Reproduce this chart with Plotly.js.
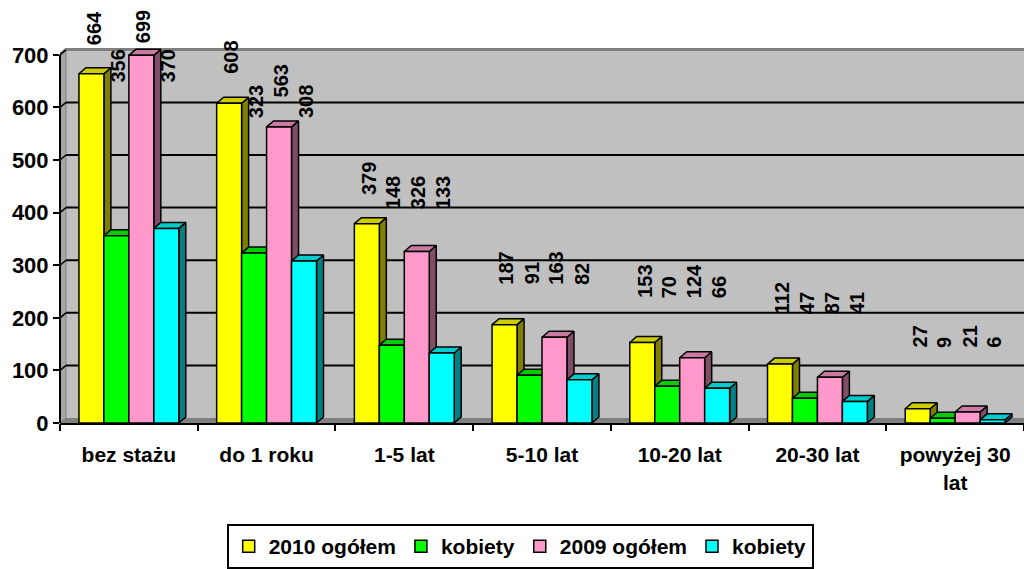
<!DOCTYPE html>
<html>
<head>
<meta charset="utf-8">
<script src="https://cdn.plot.ly/plotly-3.0.1.min.js"></script>
<style>
  html, body { margin: 0; padding: 0; background: #fff; }
  #chart { width: 1024px; height: 569px; }
</style>
</head>
<body>
<div id="chart"></div>
<script>
// --- data ---
const categories = ['bez stażu', 'do 1 roku', '1-5 lat', '5-10 lat', '10-20 lat', '20-30 lat', 'powyżej 30<br>lat'];
const total2010 = [664, 608, 379, 187, 153, 112, 27];
const women2010 = [356, 323, 148, 91, 70, 47, 9];
const total2009 = [699, 563, 326, 163, 124, 87, 21];
const women2009 = [370, 308, 133, 82, 66, 41, 6];
const seriesNames = ['2010 ogółem', 'kobiety', '2009 ogółem', 'kobiety'];
const yTicks = [0, 100, 200, 300, 400, 500, 600, 700];

// colours: front / top / side (Excel 3D look)
const fronts = ['#FFFF00', '#00FF00', '#FF99CC', '#00FFFF'];
const tops   = ['#CCCC00', '#00CC00', '#CC7AA3', '#00CCCC'];
const sides  = ['#808000', '#008000', '#804D66', '#008080'];

const series = [total2010, women2010, total2009, women2009];
const FONT = 'Liberation Sans, Arial, sans-serif';

// --- geometry ---
const W = 1024, H = 569;
const margin = { l: 60, r: 0, t: 48, b: 146, pad: 0 };
const plotW = W - margin.l - margin.r;
const plotH = H - margin.t - margin.b;
const xRange = [-0.5, categories.length - 0.5];
const yMax = 713;
const pxX = plotW / (xRange[1] - xRange[0]);   // px per category
const pxY = plotH / yMax;                        // px per unit

const bargap = 0.275;
const barW = (1 - bargap) / series.length;
const wallDx = 6 / pxX, wallDy = 5 / pxY;        // depth of the walls
const barDx = 7 / pxX, barDy = 6 / pxY;          // depth of the bars

const xs = categories.map((_, i) => i);
const barCenter = (i, k) => i + (k - (series.length - 1) / 2) * barW;

// 3D faces (sides + tops) drawn under the front faces
const faceTraces = [];
series.forEach((vals, k) => {
  const sx = [], sy = [], tx = [], ty = [];
  vals.forEach((v, i) => {
    const xl = barCenter(i, k) - barW / 2, xr = barCenter(i, k) + barW / 2;
    sx.push(xr, xr + barDx, xr + barDx, xr, xr, null);
    sy.push(0, barDy, v + barDy, v, 0, null);
    tx.push(xl, xl + barDx, xr + barDx, xr, xl, null);
    ty.push(v, v + barDy, v + barDy, v, v, null);
  });
  const common = { type: 'scatter', mode: 'lines', fill: 'toself', showlegend: false,
                   hoverinfo: 'skip', line: { color: '#000', width: 1.5 } };
  faceTraces.push({ ...common, x: sx, y: sy, fillcolor: sides[k] });
  faceTraces.push({ ...common, x: tx, y: ty, fillcolor: tops[k] });
});

// front faces as real bars on an overlaying subplot (drawn on top)
const barTraces = series.map((vals, k) => ({
  type: 'bar', x: xs, y: vals, name: seriesNames[k],
  xaxis: 'x2', yaxis: 'y2',
  marker: { color: fronts[k], line: { color: '#000', width: 1.5 } },
  hoverinfo: 'y'
}));

// --- walls, floor and grid ---
const shapes = [];
const x0w = xRange[0], x1w = xRange[1];
shapes.push({ type: 'rect', layer: 'below', xref: 'x', yref: 'y',
  x0: x0w + wallDx, x1: x1w, y0: wallDy, y1: yMax, fillcolor: '#C0C0C0', line: { width: 0 } });
shapes.push({ type: 'path', layer: 'below', xref: 'x', yref: 'y',
  path: `M${x0w},0 L${x0w},${yMax - wallDy} L${x0w + wallDx},${yMax} L${x0w + wallDx},${wallDy} Z`,
  fillcolor: '#A6A6A6', line: { color: '#808080', width: 1 } });
shapes.push({ type: 'path', layer: 'below', xref: 'x', yref: 'y',
  path: `M${x0w},0 L${x0w + wallDx},${wallDy} L${x1w + wallDx},${wallDy} L${x1w},0 Z`,
  fillcolor: '#808080', line: { width: 0 } });
yTicks.slice(1).forEach(t => {
  const last = t === yTicks[yTicks.length - 1];
  const gy = last ? yMax - 1.5 / pxY : t + wallDy;
  shapes.push({ type: 'line', layer: 'below', xref: 'x', yref: 'y',
    x0: x0w + wallDx, x1: x1w, y0: gy, y1: gy,
    line: { color: last ? '#808080' : '#000', width: last ? 3 : 2 } });
  shapes.push({ type: 'line', layer: 'below', xref: 'x', yref: 'y',
    x0: x0w, x1: x0w + wallDx, y0: t, y1: t + wallDy, line: { color: '#000', width: 1.5 } });
});
// front vertical axis line up to the last tick
shapes.push({ type: 'line', xref: 'paper', yref: 'y', x0: 0, x1: 0,
  y0: 0, y1: yTicks[yTicks.length - 1], line: { color: '#000', width: 2 } });

// --- data labels (rotated, lifted clear of the 3D tops) ---
const labelSize = 20;
const annotations = [];
categories.forEach((_, i) => {
  const groupMax = Math.max(...series.map(s => s[i]));
  series.forEach((vals, k) => {
    const v = vals[i];
    const txt = String(v);
    const len = txt.length * 0.556 * labelSize;
    let hb = Math.max(v * pxY + 27, (0.75 * groupMax + 119) * pxY);
    hb = Math.min(hb, (margin.t + plotH) - 12 - len);
    annotations.push({
      xref: 'x', yref: 'y', x: barCenter(i, k) + 2 / pxX, y: v,
      yshift: hb - v * pxY, yanchor: 'bottom', xanchor: 'center',
      text: txt, textangle: -90, showarrow: false,
      font: { family: FONT, size: labelSize, weight: 'bold', color: '#000' }
    });
  });
});

const layout = {
  width: W, height: H,
  margin,
  paper_bgcolor: '#fff',
  plot_bgcolor: '#fff',
  barmode: 'group',
  bargap: bargap,
  bargroupgap: 0,
  font: { family: FONT, color: '#000' },
  xaxis: {
    range: xRange, tickvals: xs, ticktext: categories, ticks: '',
    tickfont: { family: FONT, size: 21, weight: 'bold', color: '#000' },
    ticklabelstandoff: 12,
    showgrid: false, zeroline: false,
    showline: true, linecolor: '#000', linewidth: 2
  },
  xaxis2: {
    overlaying: 'x', anchor: 'y2', range: xRange,
    tickvals: xs.map(i => i - 0.5).concat([xRange[1]]),
    ticks: 'outside', ticklen: 7, tickwidth: 2, tickcolor: '#000',
    showticklabels: false, showgrid: false, zeroline: false, showline: false
  },
  yaxis: {
    range: [0, yMax], tickvals: yTicks, ticks: 'outside', ticklen: 6, tickwidth: 2, tickcolor: '#000',
    tickfont: { family: FONT, size: 22, weight: 'bold', color: '#000' },
    showgrid: false, zeroline: false, showline: false
  },
  yaxis2: { overlaying: 'y', range: [0, yMax], visible: false },
  shapes,
  annotations,
  showlegend: true,
  legend: {
    orientation: 'h', xref: 'container', yref: 'container',
    x: 0.508, xanchor: 'center', y: -0.012, yanchor: 'bottom',
    bordercolor: '#000', borderwidth: 2, bgcolor: '#fff',
    font: { family: FONT, size: 21, weight: 'bold', color: '#000' },
    itemwidth: 30, traceorder: 'normal'
  }
};

Plotly.newPlot('chart', [...faceTraces, ...barTraces], layout, { displayModeBar: false, staticPlot: true });
</script>
</body>
</html>
